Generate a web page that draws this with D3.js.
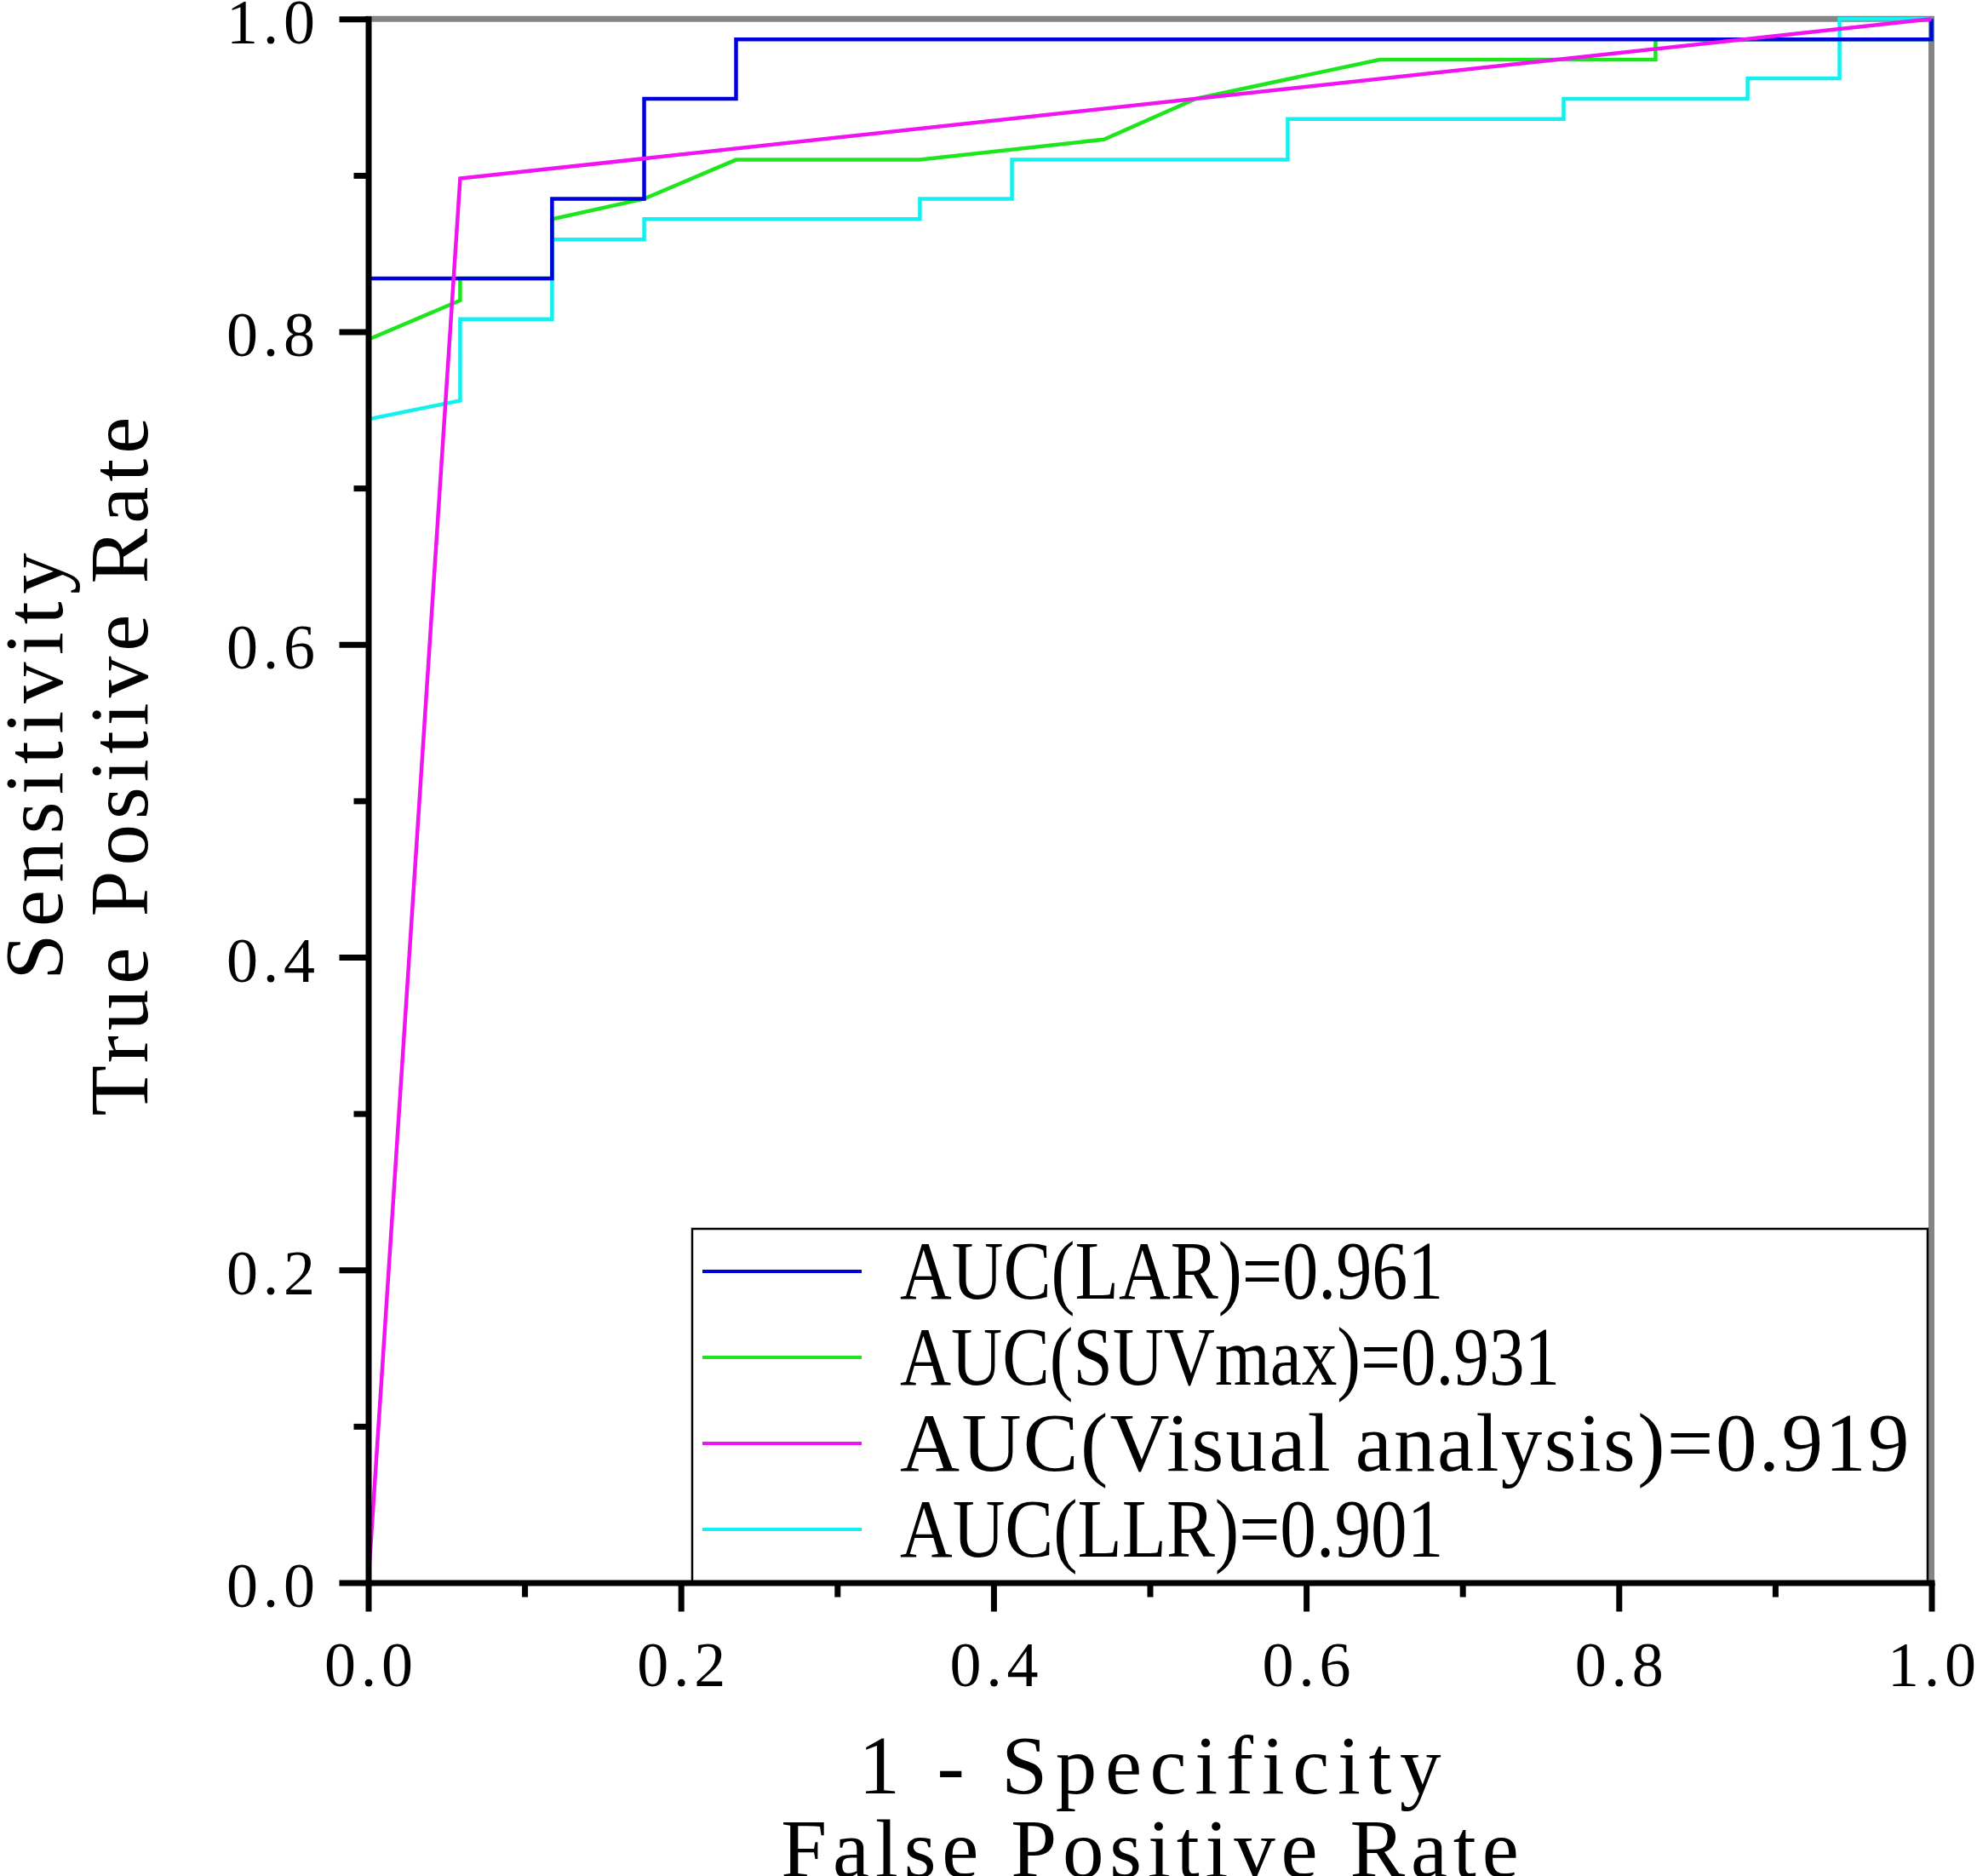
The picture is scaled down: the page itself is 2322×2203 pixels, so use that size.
<!DOCTYPE html>
<html>
<head>
<meta charset="utf-8">
<script src="https://cdn.jsdelivr.net/npm/d3@7"></script>
<style>
  body { margin: 0; background: #fff; }
  text { font-family: "Liberation Serif", "DejaVu Serif", serif; fill: #000; }
</style>
</head>
<body>
<div id="chart"></div>
<script>
// ROC points: fpr = 1 - specificity, tpr = sensitivity
var larFpr = [0, 0, 0.1176, 0.1176, 0.1765, 0.1765, 0.2353, 0.2353, 1, 1];
var larTpr = [0, 0.834, 0.834, 0.885, 0.885, 0.949, 0.949, 0.987, 0.987, 1];

var suvFpr = [0, 0, 0.0588, 0.0588, 0.1176, 0.1176, 0.1765, 0.2353, 0.3529, 0.4706, 0.5294, 0.6471, 0.8235, 0.8235, 1, 1];
var suvTpr = [0, 0.795, 0.820, 0.834, 0.834, 0.872, 0.885, 0.910, 0.910, 0.923, 0.949, 0.974, 0.974, 0.987, 0.987, 1];

var visFpr = [0, 0.0588, 1];
var visTpr = [0, 0.898, 1];

var llrFpr = [0, 0, 0.0588, 0.0588, 0.1176, 0.1176, 0.1765, 0.1765, 0.3529, 0.3529, 0.4118, 0.4118, 0.5882, 0.5882, 0.7647, 0.7647, 0.8824, 0.8824, 0.9412, 0.9412, 1];
var llrTpr = [0, 0.744, 0.756, 0.808, 0.808, 0.859, 0.859, 0.872, 0.872, 0.885, 0.885, 0.910, 0.910, 0.936, 0.936, 0.949, 0.949, 0.962, 0.962, 1, 1];

var seriesNames = ["AUC(LAR)=0.961", "AUC(SUVmax)=0.931", "AUC(Visual analysis)=0.919", "AUC(LLR)=0.901"];
var seriesColors = ["#0000dd", "#1ee61e", "#f014f0", "#14f0f0"];

var majorTicks = [0, 0.2, 0.4, 0.6, 0.8, 1.0];
var minorTicks = [0.1, 0.3, 0.5, 0.7, 0.9];

var xTitles = ["1 - Specificity", "False Positive Rate"];
var yTitles = ["Sensitivity", "True Positive Rate"];

// layout
var width = 2322, height = 2203;
var plot = {left: 432.5, top: 22.3, right: 2268.5, bottom: 1858.5};
var charW = 45.6; // the original font is monospaced

// squeeze or spread a text to the width the original font gave it
function fitText(sel, w) {
    sel.each(function() {
        var natural = this.getComputedTextLength();
        d3.select(this)
          .attr("textLength", w)
          .attr("lengthAdjust", natural > w ? "spacingAndGlyphs" : "spacing");
    });
}

function toPoints(xs, ys) {
    return xs.map(function(d, i) { return [d, ys[i]]; });
}

var svg = d3.select("#chart")
    .append("svg")
    .attr("width", width)
    .attr("height", height);

var x = d3.scaleLinear().domain([0, 1]).range([plot.left, plot.right]);
var y = d3.scaleLinear().domain([0, 1]).range([plot.bottom, plot.top]);

// grey top and right frame
svg.append("path")
   .attr("d", "M" + x(0) + "," + y(1) + "H" + x(1) + "V" + y(0))
   .attr("fill", "none")
   .attr("stroke", "#858585")
   .attr("stroke-width", 7)
   .attr("stroke-linecap", "square");

// legend
var legend = svg.append("g");
legend.append("rect")
    .attr("x", 813).attr("y", 1443)
    .attr("width", 2264 - 813).attr("height", y(0) - 1443)
    .attr("fill", "#fff")
    .attr("stroke", "#000")
    .attr("stroke-width", 2.5);
var rows = legend.selectAll("g.row")
    .data(seriesNames)
    .enter().append("g")
    .attr("class", "row")
    .attr("transform", function(d, i) { return "translate(0," + (1493 + i * 101) + ")"; });
rows.append("line")
    .attr("x1", 825).attr("x2", 1012)
    .attr("stroke", function(d, i) { return seriesColors[i]; })
    .attr("stroke-width", 4);
rows.append("text")
    .attr("x", 1057)
    .attr("dy", "0.33em")
    .attr("font-size", 97)
    .text(function(d) { return d; })
    .each(function(d) { fitText(d3.select(this), d.length * charW); });

// curves (blue over green so the shared steps show blue, as in the figure)
var line = d3.line()
    .x(function(d) { return x(d[0]); })
    .y(function(d) { return y(d[1]); });

var curves = [
    {pts: toPoints(suvFpr, suvTpr), color: seriesColors[1]},
    {pts: toPoints(llrFpr, llrTpr), color: seriesColors[3]},
    {pts: toPoints(larFpr, larTpr), color: seriesColors[0]},
    {pts: toPoints(visFpr, visTpr), color: seriesColors[2]}
];
svg.selectAll("path.roc")
   .data(curves)
   .enter().append("path")
   .attr("class", "roc")
   .attr("d", function(d) { return line(d.pts); })
   .attr("fill", "none")
   .attr("stroke", function(d) { return d.color; })
   .attr("stroke-width", 4.5)
   .attr("stroke-linejoin", "miter");

// minor ticks
svg.append("g")
   .attr("transform", "translate(0," + y(0) + ")")
   .call(d3.axisBottom(x).tickValues(minorTicks).tickSize(17).tickSizeOuter(0).tickFormat(""))
   .call(function(g) { g.select(".domain").remove(); });
svg.append("g")
   .attr("transform", "translate(" + x(0) + ",0)")
   .call(d3.axisLeft(y).tickValues(minorTicks).tickSize(17).tickSizeOuter(0).tickFormat(""))
   .call(function(g) { g.select(".domain").remove(); });

// major axes, black, on top of everything
svg.append("g")
   .attr("transform", "translate(0," + y(0) + ")")
   .call(d3.axisBottom(x).tickValues(majorTicks).tickSize(34).tickSizeOuter(0)
         .tickPadding(35).tickFormat(d3.format(".1f")));
svg.append("g")
   .attr("class", "yaxis")
   .attr("transform", "translate(" + x(0) + ",0)")
   .call(d3.axisLeft(y).tickValues(majorTicks).tickSize(34).tickSizeOuter(0)
         .tickPadding(28.5).tickFormat(d3.format(".1f")));

svg.selectAll(".tick line").attr("stroke", "#000").attr("stroke-width", 7);
svg.selectAll(".domain").attr("stroke", "#000").attr("stroke-width", 7).attr("stroke-linecap", "square");
svg.selectAll(".yaxis .tick text").attr("dy", "0.38em");
svg.selectAll(".tick text")
   .attr("font-size", 74)
   .attr("font-family", "Liberation Serif")
   .call(fitText, 104);

// axis titles
var cx = (plot.left + plot.right) / 2;
svg.selectAll("text.xtitle")
   .data(xTitles)
   .enter().append("text")
   .attr("class", "xtitle")
   .attr("x", cx)
   .attr("y", function(d, i) { return 2106 + i * 98; })
   .attr("text-anchor", "middle")
   .attr("font-size", 97)
   .text(function(d) { return d; })
   .each(function(d) { fitText(d3.select(this), d.length * charW); });

svg.selectAll("text.ytitle")
   .data(yTitles)
   .enter().append("text")
   .attr("class", "ytitle")
   .attr("transform", function(d, i) { return "translate(" + (73 + i * 100) + ",900) rotate(-90)"; })
   .attr("text-anchor", "middle")
   .attr("font-size", 97)
   .text(function(d) { return d; })
   .each(function(d) { fitText(d3.select(this), d.length * charW); });
</script>
</body>
</html>
